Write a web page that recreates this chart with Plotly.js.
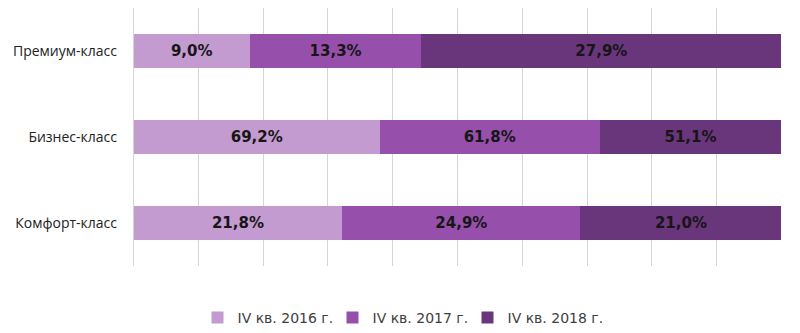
<!DOCTYPE html>
<html>
<head>
<meta charset="utf-8">
<script src="https://cdn.plot.ly/plotly-3.0.1.min.js"></script>
<style>html,body{margin:0;padding:0;background:#fff;}#chart{width:800px;height:333px;}</style>
</head>
<body>
<div id="chart"></div>
<script>
var categories = ['Премиум-класс', 'Бизнес-класс', 'Комфорт-класс'];
var seriesNames = ['IV кв. 2016 г.', 'IV кв. 2017 г.', 'IV кв. 2018 г.'];
var values2016 = [9.0, 69.2, 21.8];
var values2017 = [13.3, 61.8, 24.9];
var values2018 = [27.9, 51.1, 21.0];
var colors = ['#c39bd0', '#9650ab', '#69357b'];

var allValues = [values2016, values2017, values2018];
var traces = allValues.map(function (vals, i) {
  return {
    type: 'bar',
    orientation: 'h',
    name: seriesNames[i],
    y: categories,
    x: vals,
    text: vals,
    texttemplate: '%{text:.1f}%',
    textposition: 'inside',
    insidetextanchor: 'middle',
    textangle: 0,
    constraintext: 'none',
    textfont: {family: '"DejaVu Sans", sans-serif', size: 15, color: '#161616', weight: 'bold'},
    marker: {color: colors[i], line: {width: 0}},
    hoverinfo: 'none'
  };
});

var layout = {
  width: 800,
  height: 333,
  barmode: 'stack',
  barnorm: 'percent',
  bargap: 0.6,
  separators: ', ',
  margin: {l: 133, r: 18, t: 8, b: 67},
  paper_bgcolor: '#fff',
  plot_bgcolor: '#fff',
  showlegend: true,
  legend: {
    orientation: 'h',
    x: 0.5, xref: 'container', xanchor: 'center',
    y: 0.045, yref: 'container', yanchor: 'middle',
    traceorder: 'normal',
    font: {family: '"DejaVu Sans", sans-serif', size: 14, color: '#404040'},
    itemwidth: 30,
    entrywidth: 90
  },
  xaxis: {
    range: [-0.1, 100.1],
    tick0: 0,
    dtick: 10,
    showgrid: true,
    gridcolor: '#d6d6d6',
    gridwidth: 1,
    zeroline: true,
    zerolinecolor: '#d6d6d6',
    zerolinewidth: 1,
    showticklabels: false,
    showline: false,
    fixedrange: true
  },
  yaxis: {
    autorange: 'reversed',
    showgrid: false,
    zeroline: false,
    showline: false,
    ticks: '',
    ticklabelstandoff: 15,
    tickfont: {family: '"Open Sans", "DejaVu Sans", sans-serif', size: 14, color: '#222'},
    fixedrange: true
  }
};

Plotly.newPlot('chart', traces, layout, {displayModeBar: false, staticPlot: true});
</script>
</body>
</html>
